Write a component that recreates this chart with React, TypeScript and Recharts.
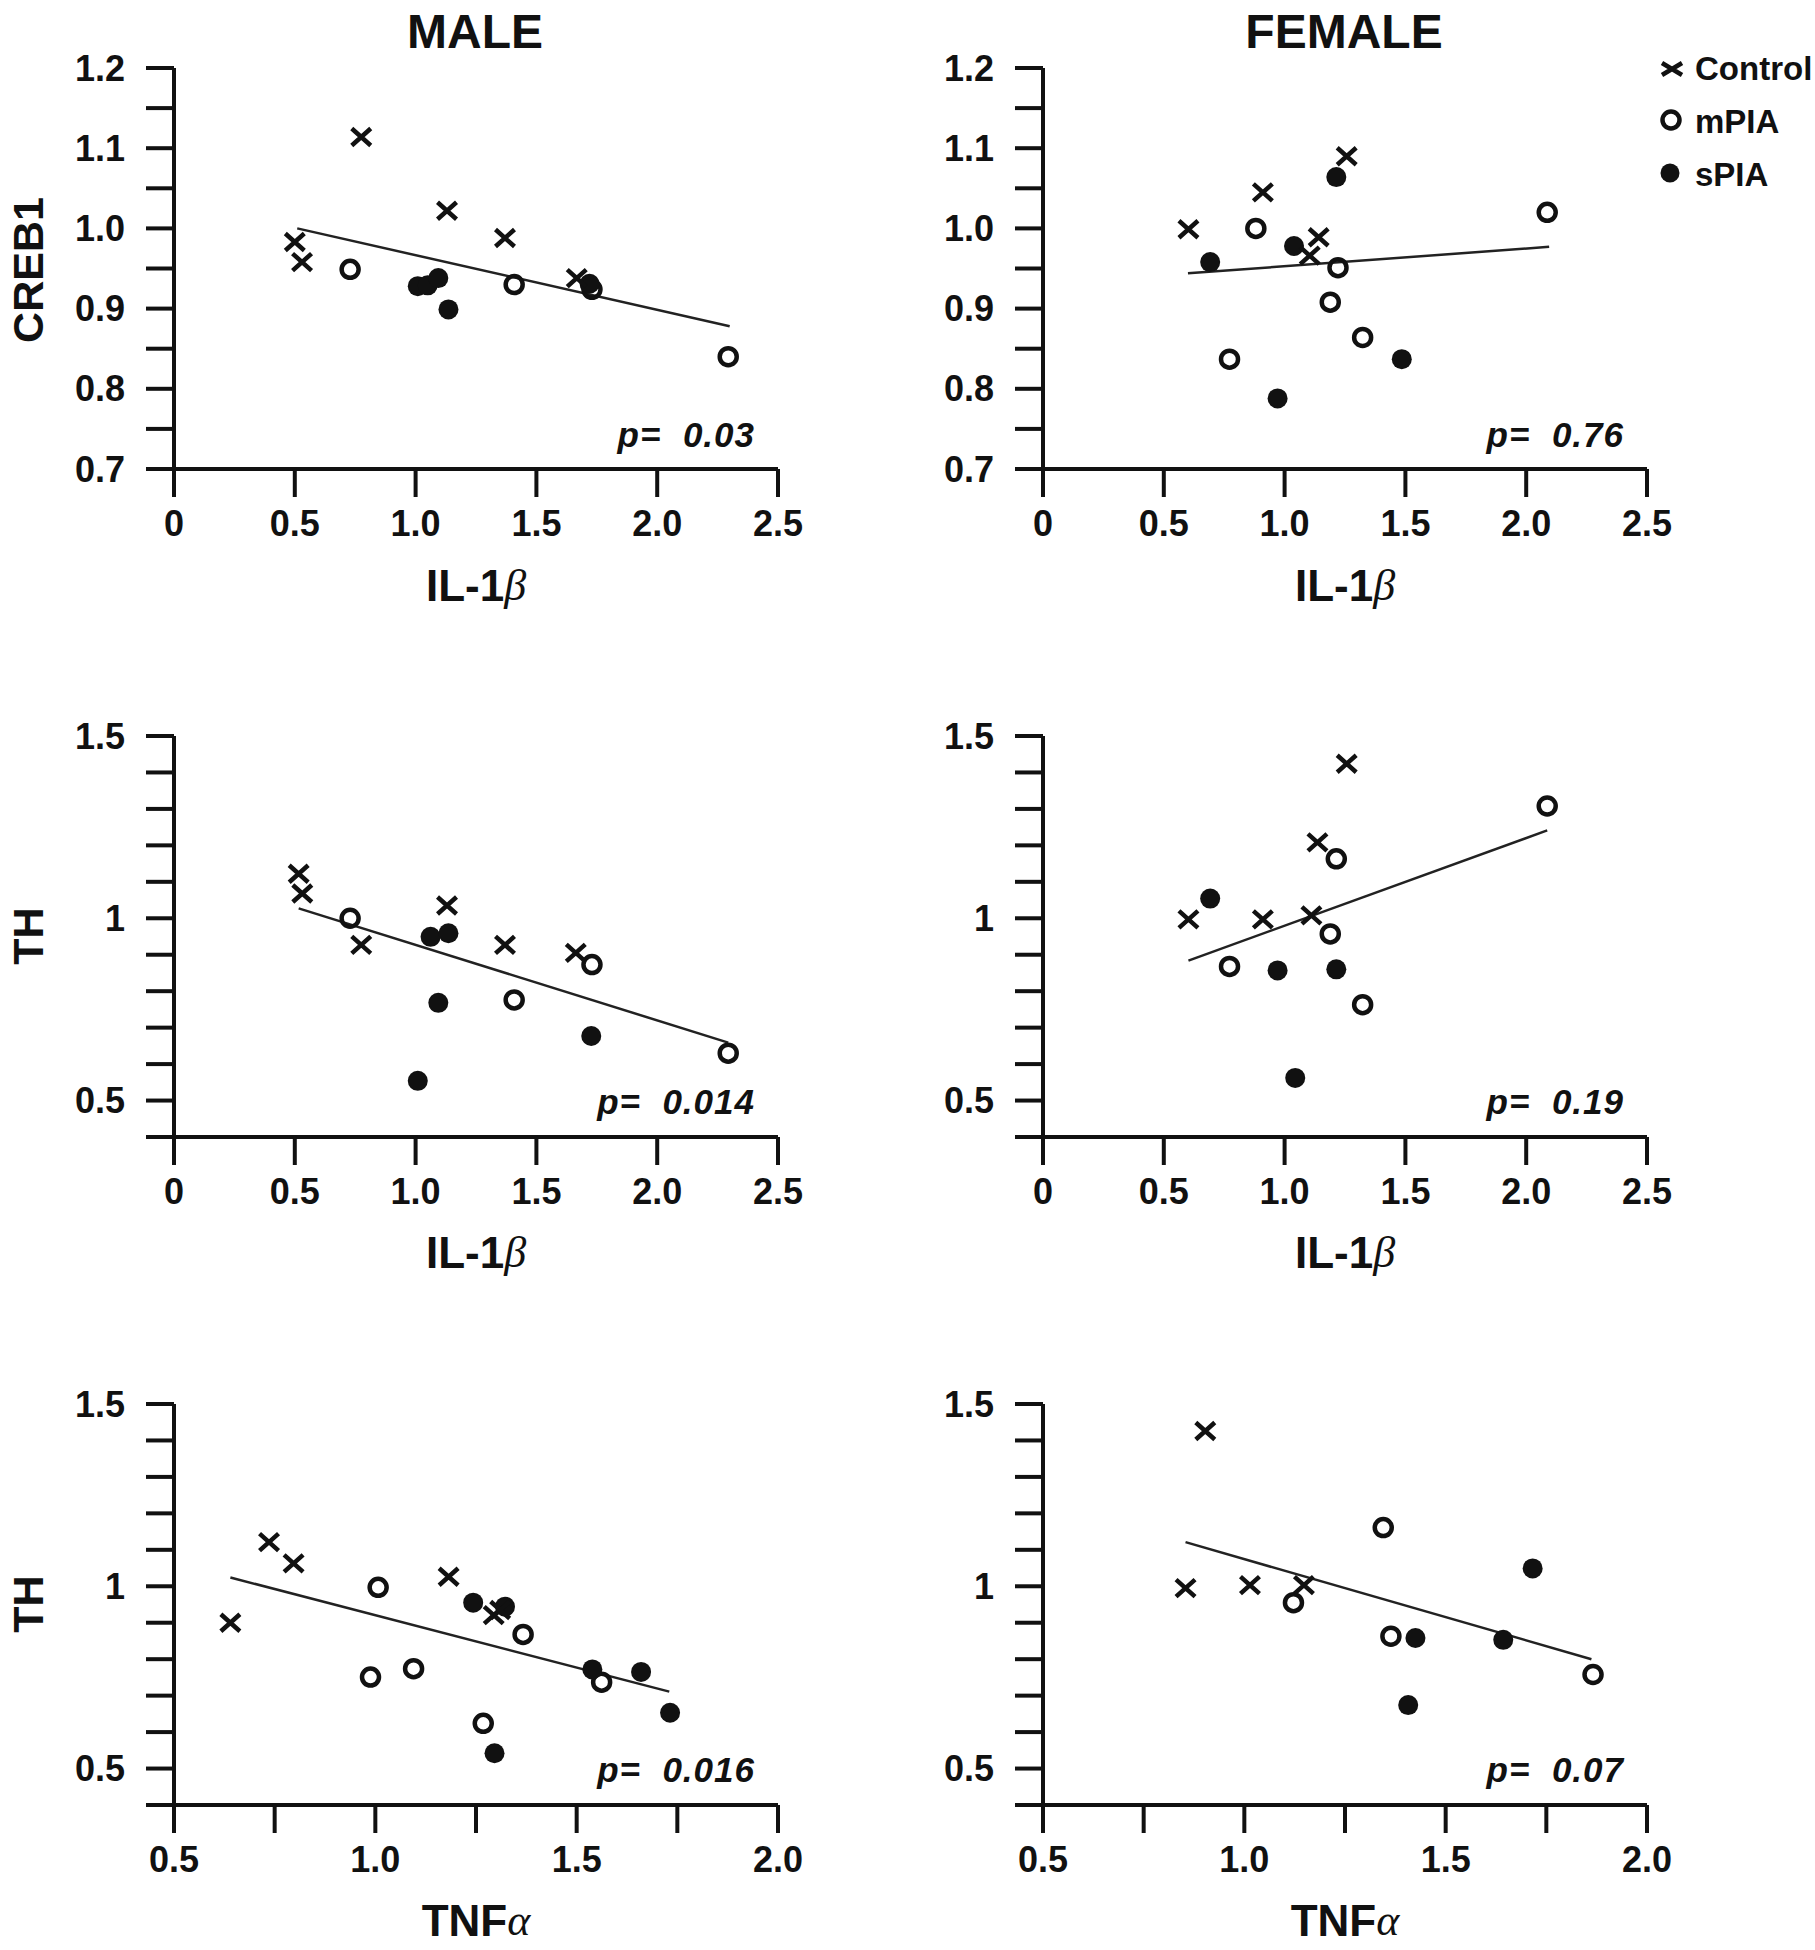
import React from 'react';
import { ScatterChart, Scatter, XAxis, YAxis, ReferenceLine } from 'recharts';

type Pt = { x: number; y: number };

// top row: CREB1 vs IL-1beta
const maleCrebCtrl: Pt[] = [
  { x: 0.5, y: 0.983 }, { x: 0.53, y: 0.958 }, { x: 0.775, y: 1.114 },
  { x: 1.13, y: 1.022 }, { x: 1.37, y: 0.988 }, { x: 1.667, y: 0.938 },
];
const maleCrebMpia: Pt[] = [
  { x: 0.729, y: 0.949 }, { x: 1.408, y: 0.93 }, { x: 1.73, y: 0.924 }, { x: 2.294, y: 0.84 },
];
const maleCrebSpia: Pt[] = [
  { x: 1.009, y: 0.928 }, { x: 1.05, y: 0.929 }, { x: 1.094, y: 0.938 },
  { x: 1.136, y: 0.899 }, { x: 1.72, y: 0.931 },
];
const maleCrebFit: Pt[] = [{ x: 0.51, y: 1.0 }, { x: 2.3, y: 0.878 }];

const femCrebCtrl: Pt[] = [
  { x: 0.602, y: 0.999 }, { x: 0.91, y: 1.045 }, { x: 1.257, y: 1.09 },
  { x: 1.141, y: 0.989 }, { x: 1.104, y: 0.966 },
];
const femCrebMpia: Pt[] = [
  { x: 0.881, y: 1.0 }, { x: 0.772, y: 0.837 }, { x: 1.221, y: 0.951 },
  { x: 1.189, y: 0.908 }, { x: 1.323, y: 0.864 }, { x: 2.087, y: 1.02 },
];
const femCrebSpia: Pt[] = [
  { x: 0.692, y: 0.958 }, { x: 1.039, y: 0.978 }, { x: 1.214, y: 1.064 },
  { x: 0.971, y: 0.788 }, { x: 1.485, y: 0.837 },
];
const femCrebFit: Pt[] = [{ x: 0.6, y: 0.944 }, { x: 2.095, y: 0.977 }];

// middle row: TH vs IL-1beta
const maleThIlCtrl: Pt[] = [
  { x: 0.516, y: 1.122 }, { x: 0.531, y: 1.068 }, { x: 0.775, y: 0.927 },
  { x: 1.13, y: 1.035 }, { x: 1.37, y: 0.927 }, { x: 1.663, y: 0.905 },
];
const maleThIlMpia: Pt[] = [
  { x: 0.729, y: 1.0 }, { x: 1.408, y: 0.776 }, { x: 1.73, y: 0.873 }, { x: 2.294, y: 0.63 },
];
const maleThIlSpia: Pt[] = [
  { x: 1.009, y: 0.554 }, { x: 1.062, y: 0.949 }, { x: 1.094, y: 0.768 },
  { x: 1.136, y: 0.959 }, { x: 1.727, y: 0.677 },
];
const maleThIlFit: Pt[] = [{ x: 0.516, y: 1.027 }, { x: 2.294, y: 0.659 }];

const femThIlCtrl: Pt[] = [
  { x: 0.602, y: 0.997 }, { x: 0.91, y: 0.997 }, { x: 1.111, y: 1.008 },
  { x: 1.136, y: 1.208 }, { x: 1.257, y: 1.424 },
];
const femThIlMpia: Pt[] = [
  { x: 0.772, y: 0.868 }, { x: 1.214, y: 1.163 }, { x: 1.189, y: 0.957 },
  { x: 1.323, y: 0.763 }, { x: 2.087, y: 1.308 },
];
const femThIlSpia: Pt[] = [
  { x: 0.692, y: 1.054 }, { x: 0.971, y: 0.857 }, { x: 1.214, y: 0.86 }, { x: 1.044, y: 0.562 },
];
const femThIlFit: Pt[] = [{ x: 0.602, y: 0.884 }, { x: 2.087, y: 1.241 }];

// bottom row: TH vs TNF-alpha
const maleThTnfCtrl: Pt[] = [
  { x: 0.64, y: 0.9 }, { x: 0.736, y: 1.121 }, { x: 0.797, y: 1.063 },
  { x: 1.182, y: 1.026 }, { x: 1.294, y: 0.921 }, { x: 1.31, y: 0.935 },
];
const maleThTnfMpia: Pt[] = [
  { x: 1.007, y: 0.997 }, { x: 0.988, y: 0.751 }, { x: 1.095, y: 0.774 },
  { x: 1.268, y: 0.624 }, { x: 1.367, y: 0.868 }, { x: 1.562, y: 0.737 },
];
const maleThTnfSpia: Pt[] = [
  { x: 1.243, y: 0.955 }, { x: 1.322, y: 0.944 }, { x: 1.296, y: 0.542 },
  { x: 1.539, y: 0.772 }, { x: 1.66, y: 0.765 }, { x: 1.732, y: 0.653 },
];
const maleThTnfFit: Pt[] = [{ x: 0.64, y: 1.024 }, { x: 1.73, y: 0.711 }];

const femThTnfCtrl: Pt[] = [
  { x: 0.854, y: 0.995 }, { x: 1.014, y: 1.003 }, { x: 1.148, y: 1.003 }, { x: 0.903, y: 1.426 },
];
const femThTnfMpia: Pt[] = [
  { x: 1.122, y: 0.955 }, { x: 1.345, y: 1.161 }, { x: 1.364, y: 0.863 }, { x: 1.866, y: 0.758 },
];
const femThTnfSpia: Pt[] = [
  { x: 1.425, y: 0.858 }, { x: 1.643, y: 0.853 }, { x: 1.716, y: 1.049 }, { x: 1.407, y: 0.674 },
];
const femThTnfFit: Pt[] = [{ x: 0.854, y: 1.121 }, { x: 1.862, y: 0.8 }];

// ticks and their labels ('' = minor tick)
const ilTicks = [0, 0.5, 1, 1.5, 2, 2.5];
const ilTickLabels = ['0', '0.5', '1.0', '1.5', '2.0', '2.5'];
const tnfTicks = [0.5, 0.75, 1, 1.25, 1.5, 1.75, 2];
const tnfTickLabels = ['0.5', '', '1.0', '', '1.5', '', '2.0'];
const crebTicks = [0.7, 0.75, 0.8, 0.85, 0.9, 0.95, 1.0, 1.05, 1.1, 1.15, 1.2];
const crebTickLabels = ['0.7', '', '0.8', '', '0.9', '', '1.0', '', '1.1', '', '1.2'];
const thTicks = [0.4, 0.5, 0.6, 0.7, 0.8, 0.9, 1.0, 1.1, 1.2, 1.3, 1.4, 1.5];
const thTickLabels = ['', '0.5', '', '', '', '', '1', '', '', '', '', '1.5'];

const pValues = ['0.03', '0.76', '0.014', '0.19', '0.016', '0.07'];

const FONT = '"Liberation Sans", Arial, Helvetica, sans-serif';
const INK = '#111';

const Cross = (p: any) => {
  const { cx, cy } = p;
  return (
    <path
      d={`M${cx - 9.5},${cy - 8.5}L${cx + 9.5},${cy + 8.5}M${cx - 9.5},${cy + 8.5}L${cx + 9.5},${cy - 8.5}`}
      stroke={INK}
      strokeWidth={4.5}
      fill="none"
    />
  );
};
const Ring = (p: any) => <circle cx={p.cx} cy={p.cy} r={8.5} fill="none" stroke={INK} strokeWidth={4.5} />;
const Dot = (p: any) => <circle cx={p.cx} cy={p.cy} r={10} fill={INK} />;

const makeTick = (ticks: number[], labels: string[], axis: 'x' | 'y') => (props: any) => {
  const { x, y, payload } = props;
  const i = ticks.findIndex((t) => Math.abs(t - payload.value) < 1e-6);
  const txt = i >= 0 ? labels[i] : '';
  if (!txt) return <g />;
  if (axis === 'x') {
    return (
      <text x={x} y={y} dy="0.72em" textAnchor="middle" fontFamily={FONT} fontWeight="bold" fontSize={36} fill={INK}>
        {txt}
      </text>
    );
  }
  return (
    <text x={x} y={y} textAnchor="end" dominantBaseline="central" fontFamily={FONT} fontWeight="bold" fontSize={36} fill={INK}>
      {txt}
    </text>
  );
};

type PanelProps = {
  left: number;
  top: number;
  height: number;
  xDomain: [number, number];
  xTicks: number[];
  xLabels: string[];
  yDomain: [number, number];
  yTicks: number[];
  yLabels: string[];
  ctrl: Pt[];
  mpia: Pt[];
  spia: Pt[];
  fit: Pt[];
};

const axisStroke = { stroke: INK, strokeWidth: 4 };

function Panel(p: PanelProps) {
  return (
    <div style={{ position: 'absolute', left: p.left, top: p.top }}>
      <ScatterChart
        width={880}
        height={p.height}
        margin={{ top: 68, right: 102, bottom: p.height - 68 - 401 - 60, left: 54 }}
      >
        <XAxis
          type="number"
          dataKey="x"
          domain={p.xDomain}
          ticks={p.xTicks}
          interval={0}
          allowDataOverflow
          height={60}
          tickSize={28}
          tickMargin={13}
          axisLine={axisStroke}
          tickLine={axisStroke}
          tick={makeTick(p.xTicks, p.xLabels, 'x')}
        />
        <YAxis
          type="number"
          dataKey="y"
          domain={p.yDomain}
          ticks={p.yTicks}
          interval={0}
          allowDataOverflow
          width={120}
          tickSize={28}
          tickMargin={21}
          axisLine={axisStroke}
          tickLine={axisStroke}
          tick={makeTick(p.yTicks, p.yLabels, 'y')}
        />
        <ReferenceLine segment={[p.fit[0], p.fit[1]]} stroke="#222" strokeWidth={2.5} ifOverflow="visible" />
        <Scatter data={p.mpia} shape={Ring} isAnimationActive={false} />
        <Scatter data={p.spia} shape={Dot} isAnimationActive={false} />
        <Scatter data={p.ctrl} shape={Cross} isAnimationActive={false} />
      </ScatterChart>
    </div>
  );
}

const textStyle = { fontFamily: FONT, fontWeight: 'bold' as const, fill: INK };

export default function App() {
  const rowTop = [0, 668, 1336];
  const rowH = [668, 668, 614];
  const colLeft = [0, 869];
  const axisY = [469, 1136, 1804];
  const plotCx = [476, 1345];

  return (
    <div style={{ position: 'absolute', left: 0, top: 0, width: 1815, height: 1950, background: '#fff', overflow: 'hidden' }}>
      <Panel left={colLeft[0]} top={rowTop[0]} height={rowH[0]} xDomain={[0, 2.5]} xTicks={ilTicks} xLabels={ilTickLabels}
        yDomain={[0.7, 1.2]} yTicks={crebTicks} yLabels={crebTickLabels}
        ctrl={maleCrebCtrl} mpia={maleCrebMpia} spia={maleCrebSpia} fit={maleCrebFit} />
      <Panel left={colLeft[1]} top={rowTop[0]} height={rowH[0]} xDomain={[0, 2.5]} xTicks={ilTicks} xLabels={ilTickLabels}
        yDomain={[0.7, 1.2]} yTicks={crebTicks} yLabels={crebTickLabels}
        ctrl={femCrebCtrl} mpia={femCrebMpia} spia={femCrebSpia} fit={femCrebFit} />
      <Panel left={colLeft[0]} top={rowTop[1]} height={rowH[1]} xDomain={[0, 2.5]} xTicks={ilTicks} xLabels={ilTickLabels}
        yDomain={[0.4, 1.5]} yTicks={thTicks} yLabels={thTickLabels}
        ctrl={maleThIlCtrl} mpia={maleThIlMpia} spia={maleThIlSpia} fit={maleThIlFit} />
      <Panel left={colLeft[1]} top={rowTop[1]} height={rowH[1]} xDomain={[0, 2.5]} xTicks={ilTicks} xLabels={ilTickLabels}
        yDomain={[0.4, 1.5]} yTicks={thTicks} yLabels={thTickLabels}
        ctrl={femThIlCtrl} mpia={femThIlMpia} spia={femThIlSpia} fit={femThIlFit} />
      <Panel left={colLeft[0]} top={rowTop[2]} height={rowH[2]} xDomain={[0.5, 2]} xTicks={tnfTicks} xLabels={tnfTickLabels}
        yDomain={[0.4, 1.5]} yTicks={thTicks} yLabels={thTickLabels}
        ctrl={maleThTnfCtrl} mpia={maleThTnfMpia} spia={maleThTnfSpia} fit={maleThTnfFit} />
      <Panel left={colLeft[1]} top={rowTop[2]} height={rowH[2]} xDomain={[0.5, 2]} xTicks={tnfTicks} xLabels={tnfTickLabels}
        yDomain={[0.4, 1.5]} yTicks={thTicks} yLabels={thTickLabels}
        ctrl={femThTnfCtrl} mpia={femThTnfMpia} spia={femThTnfSpia} fit={femThTnfFit} />

      <svg width={1815} height={1950} style={{ position: 'absolute', left: 0, top: 0, pointerEvents: 'none' }}>
        <text x={475} y={31} textAnchor="middle" dominantBaseline="central" fontSize={48} {...textStyle}>MALE</text>
        <text x={1344} y={31} textAnchor="middle" dominantBaseline="central" fontSize={48} {...textStyle}>FEMALE</text>

        <text transform="translate(28,270) rotate(-90)" textAnchor="middle" dominantBaseline="central" fontSize={43} {...textStyle}>CREB1</text>
        <text transform="translate(28,936) rotate(-90)" textAnchor="middle" dominantBaseline="central" fontSize={43} {...textStyle}>TH</text>
        <text transform="translate(28,1604) rotate(-90)" textAnchor="middle" dominantBaseline="central" fontSize={43} {...textStyle}>TH</text>

        {[0, 1, 2].map((r) =>
          plotCx.map((cx, c) => (
            <text key={`xl${r}${c}`} x={cx} y={axisY[r] + 116} textAnchor="middle" dominantBaseline="central" fontSize={44} {...textStyle}>
              {r < 2 ? 'IL-1' : 'TNF'}
              <tspan fontFamily='"Liberation Serif", "DejaVu Serif", serif' fontStyle="italic" fontWeight="normal">
                {r < 2 ? 'β' : 'α'}
              </tspan>
            </text>
          ))
        )}

        {[0, 1, 2].map((r) =>
          [0, 1].map((c) => (
            <text key={`p${r}${c}`} x={c === 0 ? 755 : 1624} y={axisY[r] - 35} textAnchor="end" dominantBaseline="central"
              fontSize={35} fontStyle="italic" letterSpacing={1} {...textStyle}>
              {'p=\u00a0 ' + pValues[r * 2 + c]}
            </text>
          ))
        )}

        <path d="M1662,63L1682,75M1662,75L1682,63" stroke={INK} strokeWidth={4.5} />
        <text x={1695} y={68} dominantBaseline="central" fontSize={33} {...textStyle}>Control</text>
        <circle cx={1671} cy={120} r={8.5} fill="none" stroke={INK} strokeWidth={4.5} />
        <text x={1695} y={121} dominantBaseline="central" fontSize={33} {...textStyle}>mPIA</text>
        <circle cx={1670} cy={173} r={9.5} fill={INK} />
        <text x={1695} y={174} dominantBaseline="central" fontSize={33} {...textStyle}>sPIA</text>
      </svg>
    </div>
  );
}
